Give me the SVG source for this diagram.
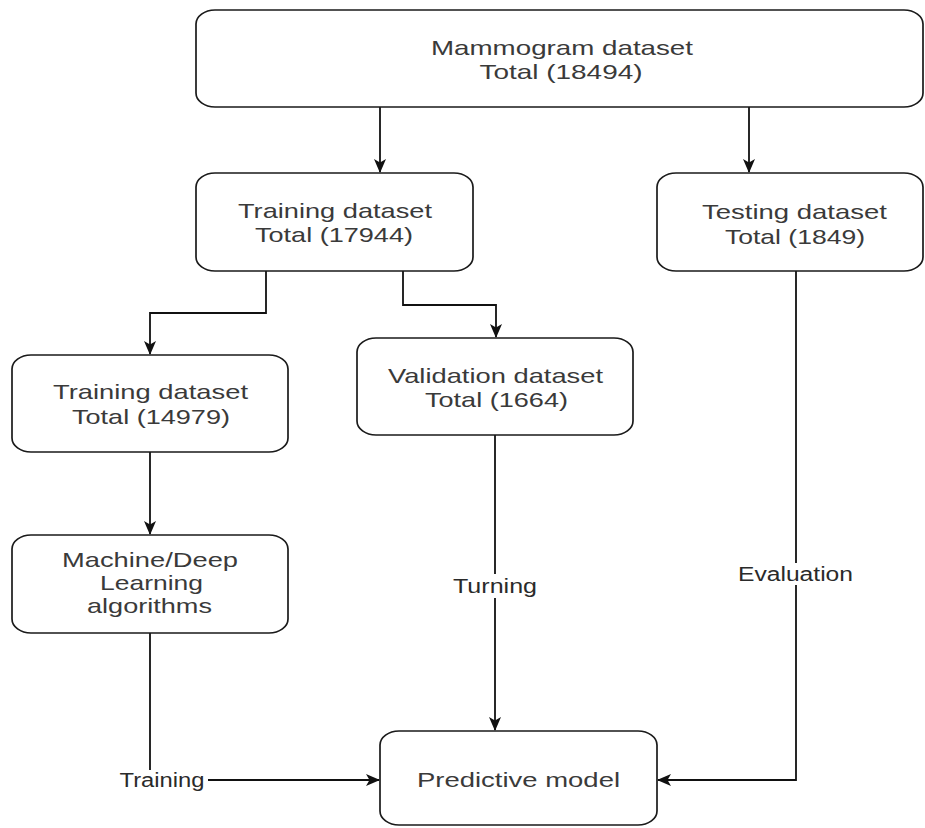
<svg xmlns="http://www.w3.org/2000/svg" width="925" height="828" viewBox="0 0 925 828">
  <style>
    .box { fill: #ffffff; stroke: #1a1a1a; stroke-width: 1.7; }
    .t { font-family: "Liberation Sans", Arial, sans-serif; font-size: 21px; fill: #3a3a3a; text-anchor: middle; }
    .lbl { font-family: "Liberation Sans", Arial, sans-serif; font-size: 20px; fill: #2a2a2a; text-anchor: middle; }
    .edge { fill: none; stroke: #111111; stroke-width: 1.8; }
    .bg { fill: #ffffff; }
  </style>
  <defs>
    <marker id="arrow" viewBox="0 0 14 14" refX="13" refY="7" markerWidth="14" markerHeight="14" markerUnits="userSpaceOnUse" orient="auto">
      <path d="M0,1 L14,7 L0,13 L3.5,7 Z" fill="#111111"/>
    </marker>
  </defs>

  <rect width="925" height="828" fill="#ffffff"/>

  <!-- connectors -->
  <g id="connectors">
    <path class="edge" d="M380,107 V172" marker-end="url(#arrow)"/>
    <path class="edge" d="M749,107 V172" marker-end="url(#arrow)"/>
    <path class="edge" d="M266,271 V313 H150 V354" marker-end="url(#arrow)"/>
    <path class="edge" d="M403,271 V305 H496 V337" marker-end="url(#arrow)"/>
    <path class="edge" d="M150,452 V534" marker-end="url(#arrow)"/>
    <path class="edge" d="M150,633 V780 H379" marker-end="url(#arrow)"/>
    <path class="edge" d="M495,435 V730" marker-end="url(#arrow)"/>
    <path class="edge" d="M796,271 V780 H658" marker-end="url(#arrow)"/>

    <!-- edge labels -->
    <rect class="bg" x="118" y="770" width="90" height="22"/>
    <text class="lbl" x="162" y="787" textLength="85" lengthAdjust="spacingAndGlyphs">Training</text>
    <rect class="bg" x="451" y="574" width="88" height="24"/>
    <text class="lbl" x="495" y="593" textLength="84" lengthAdjust="spacingAndGlyphs">Turning</text>
    <rect class="bg" x="736" y="563" width="119" height="22"/>
    <text class="lbl" x="795.5" y="581" textLength="115" lengthAdjust="spacingAndGlyphs">Evaluation</text>
  </g>

  <g id="mammogram">
    <rect class="box" x="196" y="10" width="727" height="97" rx="19" ry="14"/>
    <text class="t" x="562" y="54.5" textLength="262" lengthAdjust="spacingAndGlyphs">Mammogram dataset</text>
    <text class="t" x="561" y="78.5" textLength="163" lengthAdjust="spacingAndGlyphs">Total (18494)</text>
  </g>

  <g id="training-all">
    <rect class="box" x="196" y="173" width="277" height="98" rx="19" ry="14"/>
    <text class="t" x="335" y="217.5" textLength="194" lengthAdjust="spacingAndGlyphs">Training dataset</text>
    <text class="t" x="334" y="242" textLength="158" lengthAdjust="spacingAndGlyphs">Total (17944)</text>
  </g>

  <g id="testing">
    <rect class="box" x="657" y="173" width="266" height="98" rx="19" ry="14"/>
    <text class="t" x="794.5" y="218.5" textLength="185" lengthAdjust="spacingAndGlyphs">Testing dataset</text>
    <text class="t" x="795" y="243.5" textLength="140" lengthAdjust="spacingAndGlyphs">Total (1849)</text>
  </g>

  <g id="training-split">
    <rect class="box" x="12" y="355" width="276" height="97" rx="19" ry="14"/>
    <text class="t" x="150.5" y="399" textLength="195" lengthAdjust="spacingAndGlyphs">Training dataset</text>
    <text class="t" x="151" y="423.5" textLength="158" lengthAdjust="spacingAndGlyphs">Total (14979)</text>
  </g>

  <g id="validation">
    <rect class="box" x="357" y="338" width="276" height="97" rx="19" ry="14"/>
    <text class="t" x="495.5" y="382.5" textLength="215" lengthAdjust="spacingAndGlyphs">Validation dataset</text>
    <text class="t" x="496.5" y="406.5" textLength="143" lengthAdjust="spacingAndGlyphs">Total (1664)</text>
  </g>

  <g id="algorithms">
    <rect class="box" x="12" y="535" width="276" height="98" rx="19" ry="14"/>
    <text class="t" x="150" y="567" textLength="176" lengthAdjust="spacingAndGlyphs">Machine/Deep</text>
    <text class="t" x="151.5" y="590" textLength="103" lengthAdjust="spacingAndGlyphs">Learning</text>
    <text class="t" x="149.5" y="613" textLength="125" lengthAdjust="spacingAndGlyphs">algorithms</text>
  </g>

  <g id="predictive">
    <rect class="box" x="380" y="731" width="277" height="94" rx="19" ry="14"/>
    <text class="t" x="518.5" y="786.5" textLength="203" lengthAdjust="spacingAndGlyphs">Predictive model</text>
  </g>
</svg>
